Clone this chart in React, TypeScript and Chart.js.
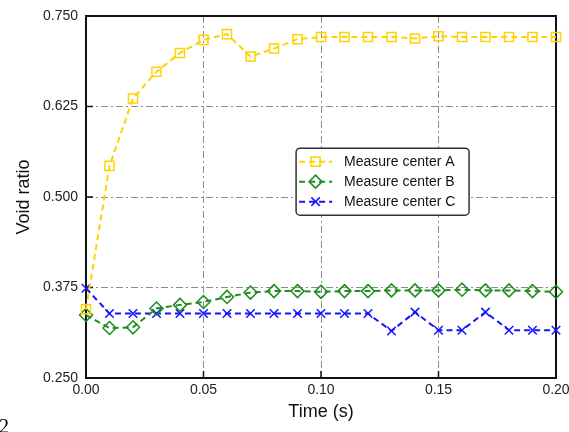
import { useEffect, useRef } from 'react';
import { Chart, registerables } from 'chart.js';

Chart.register(...registerables);

const times = [0, 0.01, 0.02, 0.03, 0.04, 0.05, 0.06, 0.07, 0.08, 0.09, 0.1, 0.11, 0.12, 0.13, 0.14, 0.15, 0.16, 0.17, 0.18, 0.19, 0.2];
const centerA = [0.345, 0.543, 0.636, 0.673, 0.699, 0.717, 0.725, 0.694, 0.705, 0.718, 0.721, 0.721, 0.721, 0.721, 0.719, 0.722, 0.721, 0.721, 0.721, 0.721, 0.721];
const centerB = [0.337, 0.319, 0.320, 0.346, 0.351, 0.355, 0.362, 0.368, 0.370, 0.370, 0.369, 0.370, 0.370, 0.371, 0.371, 0.371, 0.372, 0.371, 0.371, 0.370, 0.369];
const centerC = [0.374, 0.339, 0.339, 0.339, 0.339, 0.339, 0.339, 0.339, 0.339, 0.339, 0.339, 0.339, 0.339, 0.315, 0.341, 0.316, 0.316, 0.341, 0.316, 0.316, 0.316];
const seriesNames = ['Measure center A', 'Measure center B', 'Measure center C'];
const xTicks = [0, 0.05, 0.1, 0.15, 0.2];
const yTicks = [0.25, 0.375, 0.5, 0.625, 0.75];

const FONT = "'Liberation Sans', Arial, Helvetica, sans-serif";
const COLORS = ['#FFD200', '#1E8C1E', '#1414FF'];
const STYLES = ['rect', 'rectRot', 'crossRot'];
const RADII = [6.4, 6.5, 6];

function drawMarker(ctx: CanvasRenderingContext2D, style: string, cx: number, cy: number, r: number) {
  ctx.beginPath();
  if (style === 'rect') {
    const s = Math.SQRT1_2 * r;
    ctx.rect(cx - s, cy - s, 2 * s, 2 * s);
  } else if (style === 'rectRot') {
    ctx.moveTo(cx, cy - r);
    ctx.lineTo(cx + r, cy);
    ctx.lineTo(cx, cy + r);
    ctx.lineTo(cx - r, cy);
    ctx.closePath();
  } else {
    const s = Math.SQRT1_2 * r;
    ctx.moveTo(cx - s, cy - s);
    ctx.lineTo(cx + s, cy + s);
    ctx.moveTo(cx - s, cy + s);
    ctx.lineTo(cx + s, cy - s);
  }
  ctx.stroke();
}

const framePlugin = {
  id: 'frame',
  beforeDatasetsDraw(chart: any) {
    const { ctx, chartArea, scales } = chart;
    const { left, right, top, bottom } = chartArea;
    ctx.save();
    ctx.strokeStyle = '#111';
    ctx.lineWidth = 2;
    ctx.setLineDash([]);
    ctx.strokeRect(left, top, right - left, bottom - top);
    ctx.lineWidth = 1.5;
    ctx.beginPath();
    xTicks.forEach((v) => {
      const px = scales.x.getPixelForValue(v);
      ctx.moveTo(px, bottom);
      ctx.lineTo(px, bottom - 7);
    });
    yTicks.forEach((v) => {
      const py = scales.y.getPixelForValue(v);
      ctx.moveTo(left, py);
      ctx.lineTo(left + 7, py);
    });
    ctx.stroke();
    ctx.restore();
  },
};

const legendPlugin = {
  id: 'customLegend',
  afterDatasetsDraw(chart: any) {
    const { ctx, chartArea } = chart;
    const w = chartArea.right - chartArea.left;
    const h = chartArea.bottom - chartArea.top;
    const bx = chartArea.left + w * 0.447;
    const by = chartArea.top + h * 0.365;
    const bw = 173;
    const bh = 67;
    ctx.save();
    ctx.fillStyle = '#ffffff';
    ctx.strokeStyle = '#333';
    ctx.lineWidth = 1.5;
    ctx.beginPath();
    ctx.roundRect(bx, by, bw, bh, 4);
    ctx.fill();
    ctx.stroke();
    seriesNames.forEach((name, i) => {
      const ry = by + 13.5 + i * 20;
      ctx.strokeStyle = COLORS[i];
      ctx.lineWidth = 2;
      ctx.setLineDash([6, 4]);
      ctx.beginPath();
      ctx.moveTo(bx + 3, ry);
      ctx.lineTo(bx + 36, ry);
      ctx.stroke();
      ctx.setLineDash([]);
      ctx.lineWidth = 1.5;
      drawMarker(ctx, STYLES[i], bx + 19.5, ry, RADII[i]);
      ctx.fillStyle = '#111';
      ctx.font = `14px ${FONT}`;
      ctx.textBaseline = 'middle';
      ctx.textAlign = 'left';
      ctx.fillText(name, bx + 48, ry + 0.5);
    });
    ctx.restore();
  },
};

export default function App() {
  const ref = useRef<HTMLCanvasElement | null>(null);
  useEffect(() => {
    if (!ref.current) return;
    const series = [centerA, centerB, centerC];
    const chart = new Chart(ref.current, {
      type: 'line',
      data: {
        datasets: series.map((vals, i) => ({
          label: seriesNames[i],
          data: times.map((t, k) => ({ x: t, y: vals[k] })),
          borderColor: COLORS[i],
          backgroundColor: 'rgba(0,0,0,0)',
          borderWidth: 2,
          borderDash: [6, 4],
          pointStyle: STYLES[i] as any,
          pointRadius: RADII[i],
          pointHoverRadius: RADII[i],
          pointBorderWidth: 1.5,
          pointBorderColor: COLORS[i],
          pointBackgroundColor: 'rgba(0,0,0,0)',
          tension: 0,
          clip: false as any,
          fill: false,
        })),
      },
      options: {
        responsive: false,
        animation: false,
        events: [],
        layout: { padding: { top: 16, right: 13, bottom: 0, left: 0 } },
        plugins: { legend: { display: false }, tooltip: { enabled: false } },
        scales: {
          x: {
            type: 'linear',
            min: 0,
            max: 0.2,
            afterBuildTicks: (s: any) => {
              s.ticks = xTicks.map((v) => ({ value: v }));
            },
            afterFit: (s: any) => {
              s.height = 54;
              s.paddingLeft = 0;
              s.paddingRight = 0;
            },
            ticks: {
              padding: 4,
              color: '#222',
              font: { family: FONT, size: 14 },
              maxRotation: 0,
              autoSkip: false,
              callback: (v: any) => Number(v).toFixed(2),
            },
            grid: { color: '#8c8c8c', lineWidth: 1, drawTicks: false },
            border: { display: false, dash: [7, 3, 2, 3] },
            title: {
              display: true,
              text: 'Time (s)',
              color: '#111',
              font: { family: FONT, size: 18 },
              padding: { top: 0, bottom: 9 },
            },
          },
          y: {
            type: 'linear',
            min: 0.25,
            max: 0.75,
            afterBuildTicks: (s: any) => {
              s.ticks = yTicks.map((v) => ({ value: v }));
            },
            afterFit: (s: any) => {
              s.width = 86;
              s.paddingTop = 0;
              s.paddingBottom = 0;
            },
            ticks: {
              padding: 8,
              color: '#222',
              font: { family: FONT, size: 14 },
              autoSkip: false,
              callback: (v: any) => Number(v).toFixed(3),
            },
            grid: { color: '#8c8c8c', lineWidth: 1, drawTicks: false },
            border: { display: false, dash: [7, 3, 2, 3] },
            title: {
              display: true,
              text: 'Void ratio',
              color: '#111',
              font: { family: FONT, size: 18 },
              padding: { top: 13, bottom: 0 },
            },
          },
        },
      },
      plugins: [framePlugin, legendPlugin],
    });
    return () => chart.destroy();
  }, []);

  return (
    <div style={{ position: 'fixed', left: 0, top: 0, width: 569, height: 432, background: '#fff', overflow: 'hidden' }}>
      <canvas ref={ref} width={569} height={432} style={{ display: 'block' }} />
      <div
        style={{
          position: 'absolute',
          left: -1,
          top: 416,
          fontFamily: "'Liberation Serif', 'Times New Roman', serif",
          fontSize: 20,
          lineHeight: '20px',
          color: '#000',
        }}
      >
        2
      </div>
    </div>
  );
}
